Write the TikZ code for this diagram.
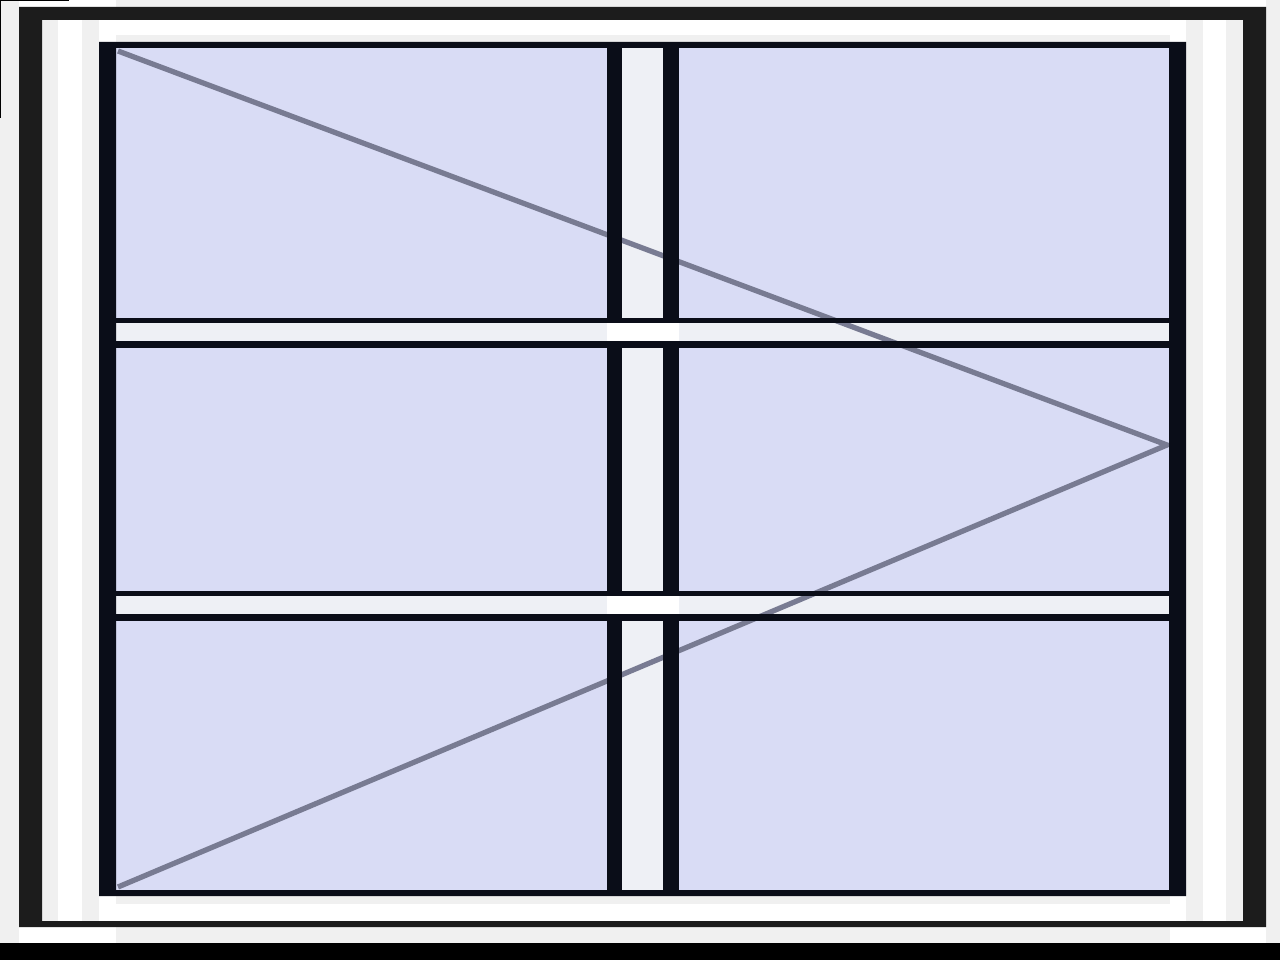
\documentclass[tikz,border=0pt]{standalone}
\usepackage{xcolor}
\definecolor{panecolor}{RGB}{217, 220, 245}
\definecolor{framecolor}{RGB}{28, 28, 28}
\definecolor{sashcolor}{RGB}{10, 13, 24}
\definecolor{stripcolor}{RGB}{240, 240, 240}
\definecolor{gapcolor}{RGB}{238, 240, 245}
\definecolor{swingcolor}{RGB}{120, 123, 146}

\begin{document}
\begin{tikzpicture}[
    x=0.2mm, y=-0.2mm,
    strip/.style={fill=stripcolor},
    frame/.style={fill=framecolor, even odd rule},
    sash/.style={fill=sashcolor, even odd rule},
    pane/.style={fill=panecolor},
    bar/.style={fill=sashcolor},
    gap/.style={fill=gapcolor},
    swing/.style={draw=swingcolor, line width=3pt, line cap=butt}
]
\useasboundingbox (0,0) rectangle (1280,960);
\fill[white] (0,0) rectangle (1280,960);

% Light strips round the frame
\fill[strip] (0,0) rectangle (19,943);
\fill[strip] (42,20) rectangle (58,921);
\fill[strip] (82,20) rectangle (99,921);
\fill[strip] (1186,20) rectangle (1203,921);
\fill[strip] (1226,20) rectangle (1243,921);
\fill[strip] (1266,0) rectangle (1280,943);
\fill[strip] (116,0) rectangle (1170,7);
\fill[strip] (116,35) rectangle (1170,42);
\fill[strip] (116,896) rectangle (1170,904);
\fill[strip] (116,927) rectangle (1170,943);

% Outer frame
\fill[frame] (19,7) rectangle (1266,927) (42,20) rectangle (1243,921);

% Glass and gaps
\fill[pane] (116,48) rectangle (1169,890);
\fill[gap] (622,48) rectangle (663,890);
\foreach \ytop/\ybot in {318/348, 591/621} {
  \fill[gap] (116,\ytop+5) rectangle (1169,\ybot-7);
}

% Opening direction
\coordinate (topHinge) at (118,51);
\coordinate (apex) at (1167,445);
\coordinate (botHinge) at (118,887);
\draw[swing] (topHinge) -- (apex) -- (botHinge);

% Sash, mullion and transoms
\fill[sash] (99,42) rectangle (1186,896) (116,48) rectangle (1169,890);
\fill[bar] (607,48) rectangle (622,890);
\fill[bar] (663,48) rectangle (679,890);
\foreach \ytop/\ybot in {318/348, 591/621} {
  \fill[bar] (116,\ytop) rectangle (1169,\ytop+5);
  \fill[bar] (116,\ybot-7) rectangle (1169,\ybot);
  \fill[white] (607,\ytop+5) rectangle (679,\ybot-7);
}

% Edge lines
\fill[black] (0,943) rectangle (1280,960);
\draw[black, line width=1pt] (0.5,118) -- (0.5,0.5) -- (69,0.5);
\end{tikzpicture}
\end{document}
